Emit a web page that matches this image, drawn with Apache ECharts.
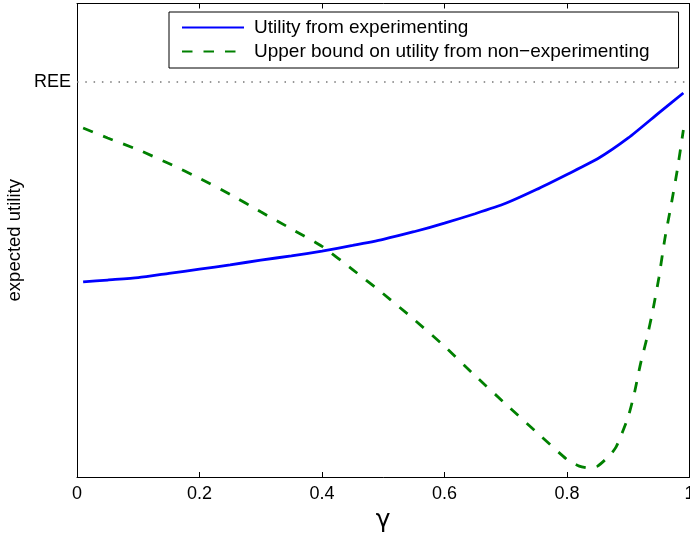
<!DOCTYPE html>
<html>
<head>
<meta charset="utf-8">
<script src="https://cdn.jsdelivr.net/npm/echarts@6/dist/echarts.min.js"></script>
<style>
  html, body { margin: 0; padding: 0; background: #fff; }
  #chart { width: 690px; height: 539px; }
</style>
</head>
<body>
<div id="chart"></div>
<script>
// utility from experimenting (solid blue)
const expX = [0.01, 0.05, 0.1, 0.15, 0.2, 0.25, 0.3, 0.35, 0.4, 0.45, 0.5, 0.55, 0.6, 0.65, 0.7, 0.75, 0.8, 0.85, 0.9, 0.95, 0.99]
const expY = [41.2, 41.6, 42.1, 43.0, 43.9, 44.8, 45.8, 46.7, 47.7, 48.9, 50.2, 51.8, 53.6, 55.6, 57.8, 60.7, 63.9, 67.2, 71.6, 76.9, 81.1]

// upper bound on utility from non-experimenting (dashed green)
const nonX = [0.01, 0.05, 0.1, 0.15, 0.2, 0.25, 0.3, 0.35, 0.4, 0.45, 0.5, 0.55, 0.6, 0.65, 0.7, 0.75, 0.8, 0.82, 0.835, 0.85, 0.87, 0.88, 0.89, 0.9, 0.91, 0.92, 0.93, 0.94, 0.95, 0.96, 0.97, 0.98, 0.99]
const nonY = [73.7, 71.6, 69.1, 66.2, 63.1, 59.7, 56.0, 52.4, 48.7, 43.8, 38.7, 33.3, 27.6, 21.4, 15.4, 9.5, 3.7, 2.3, 1.9, 2.3, 4.6, 6.3, 9.3, 12.7, 17.7, 23.9, 29.1, 35.1, 42.1, 50.5, 57.4, 64.8, 73.3]

const xTicks = [0, 0.2, 0.4, 0.6, 0.8, 1]
const reeValue = 83.4
const reeLabel = 'REE'
const seriesNames = ['Utility from experimenting', 'Upper bound on utility from non\u2212experimenting']

const font = 'Liberation Sans, Arial, Helvetica, sans-serif'

const zip = (xs, ys) => xs.map((x, i) => [x, ys[i]])

const chart = echarts.init(document.getElementById('chart'))
const axisLine = { show: true, onZero: false, lineStyle: { color: '#000', width: 1 } }

chart.setOption({
    animation: false,
    backgroundColor: '#fff',
    grid: { left: 77, right: 0.5, top: 3.5, bottom: 62, containLabel: false, outerBoundsMode: 'none' },
    legend: {
        orient: 'vertical',
        left: 169,
        top: 12,
        data: seriesNames,
        itemWidth: 62,
        itemHeight: 18,
        itemGap: 5,
        padding: [6, 29, 7, 12],
        borderColor: '#000',
        borderWidth: 1,
        borderRadius: 0,
        backgroundColor: '#fff',
        itemStyle: { opacity: 0 },
        textStyle: { fontSize: 19, lineHeight: 18, fontFamily: font, color: '#000', padding: [0, 0, 0, 5] }
    },
    xAxis: [
        {
            type: 'value', min: 0, max: 1, interval: 0.2,
            name: '\u03b3', nameLocation: 'middle', nameGap: 30,
            nameTextStyle: { fontSize: 25, fontFamily: 'DejaVu Sans', color: '#000' },
            axisLine: axisLine,
            axisTick: { show: true, inside: true, length: 5, lineStyle: { color: '#000' } },
            axisLabel: {
                fontSize: 18, fontFamily: font, color: '#000', margin: 8,
                formatter: v => xTicks.includes(v) ? String(v) : ''
            },
            splitLine: { show: false }
        },
        {
            type: 'value', min: 0, max: 1, interval: 0.2, position: 'top',
            axisLine: axisLine,
            axisTick: { show: true, inside: true, length: 5, lineStyle: { color: '#000' } },
            axisLabel: { show: false },
            splitLine: { show: false }
        }
    ],
    yAxis: [
        {
            type: 'value', min: 0, max: 100,
            name: 'expected utility', nameLocation: 'middle', nameGap: 53, nameRotate: 90,
            nameTextStyle: { fontSize: 18.5, fontFamily: font, color: '#000' },
            axisLine: axisLine,
            axisTick: { show: false },
            axisLabel: { show: false },
            splitLine: { show: false }
        },
        {
            type: 'value', min: 0, max: 100, position: 'right',
            axisLine: axisLine,
            axisTick: { show: false },
            axisLabel: { show: false },
            splitLine: { show: false }
        }
    ],
    series: [
        {
            name: seriesNames[0],
            type: 'line',
            data: zip(expX, expY),
            symbol: 'none',
            smooth: 0.2,
            lineStyle: { color: '#0000ff', width: 2.8 },
            itemStyle: { color: '#0000ff' },
            markLine: {
                silent: true,
                symbol: 'none',
                lineStyle: { color: '#777', width: 1.5, type: [1.5, 6.8] },
                label: {
                    position: 'start', distance: 6, formatter: reeLabel,
                    fontSize: 18, fontFamily: font, color: '#000'
                },
                data: [{ yAxis: reeValue }]
            }
        },
        {
            name: seriesNames[1],
            type: 'line',
            data: zip(nonX, nonY),
            symbol: 'none',
            smooth: 0.2,
            lineStyle: { color: '#008000', width: 2.8, type: [10.5, 11] },
            itemStyle: { color: '#008000' }
        }
    ]
})
</script>
</body>
</html>
